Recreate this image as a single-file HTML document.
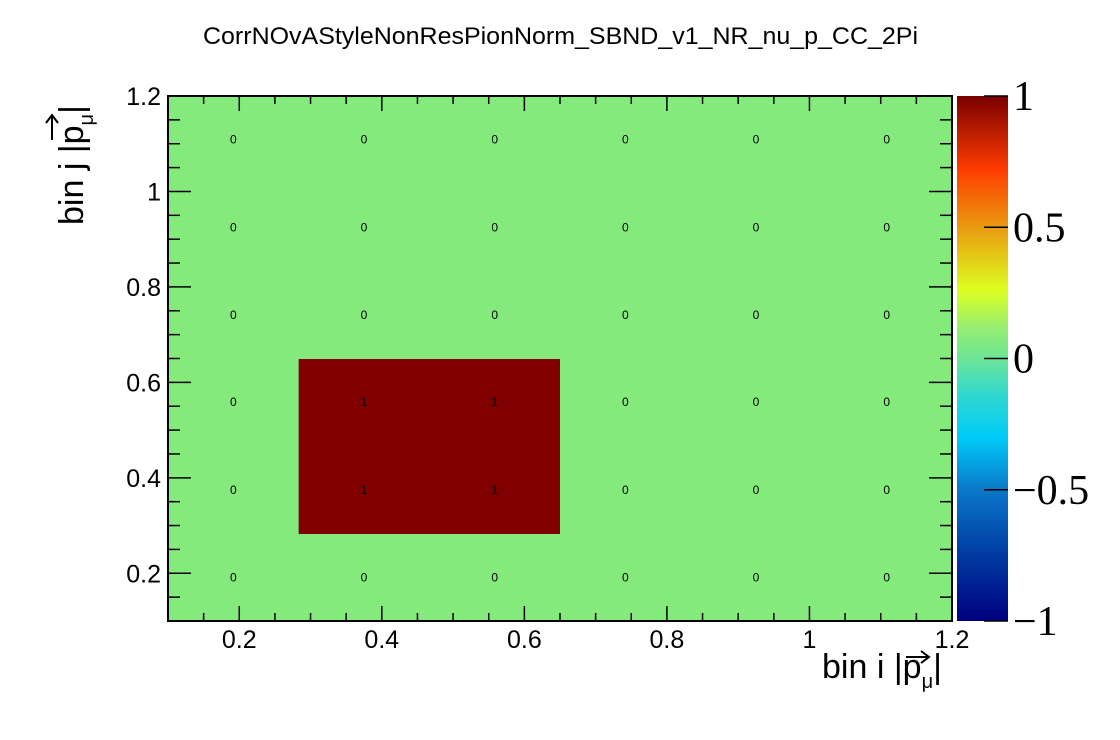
<!DOCTYPE html>
<html><head><meta charset="utf-8"><style>
html,body{margin:0;padding:0;background:#fff;}
svg{display:block;font-family:"Liberation Sans",sans-serif;}
</style></head><body>
<svg id="chart" width="1120" height="740" xmlns="http://www.w3.org/2000/svg">
<defs>
<linearGradient id="pal" x1="0" y1="1" x2="0" y2="0">
<stop offset="0" stop-color="#000080"/>
<stop offset="0.12" stop-color="#0038a0"/>
<stop offset="0.25" stop-color="#0a78c8"/>
<stop offset="0.35" stop-color="#00ccf8"/>
<stop offset="0.43" stop-color="#30d8d0"/>
<stop offset="0.5" stop-color="#6ee596"/>
<stop offset="0.56" stop-color="#98ee70"/>
<stop offset="0.63" stop-color="#dcff20"/>
<stop offset="0.75" stop-color="#ea9a10"/>
<stop offset="0.86" stop-color="#ff3c00"/>
<stop offset="1" stop-color="#7a0000"/>
</linearGradient>
</defs>
<text x="203" y="44" textLength="715" lengthAdjust="spacingAndGlyphs" font-size="24">CorrNOvAStyleNonResPionNorm_SBND_v1_NR_nu_p_CC_2Pi</text>
<g id="cells"></g>
<g id="axes"></g>
<rect x="957" y="96" width="51" height="525" fill="url(#pal)"/>
<g id="cbar"></g>
<g>
<text transform="translate(83,225) rotate(-90)" font-size="34">bin j |p<tspan dy="10" font-size="20">μ</tspan><tspan dy="-10">|</tspan></text>
<path d="M52,140 L52,115 M46,123 L52,115 L58,123" stroke="#000" stroke-width="2" fill="none"/>
</g>
<g>
<text x="822" y="678" font-size="34">bin i |p<tspan dy="10" font-size="20">μ</tspan><tspan dy="-10">|</tspan></text>
<path d="M906,657 L929,657 M921,651 L929,657 L921,663" stroke="#000" stroke-width="2" fill="none"/>
</g>
</svg>
<script>
const binEdges = [0.1, 0.2833, 0.4667, 0.65, 0.8333, 1.0167, 1.2];
// values[j][i], j from bottom row
const values = [
 [0,0,0,0,0,0],
 [0,1,1,0,0,0],
 [0,1,1,0,0,0],
 [0,0,0,0,0,0],
 [0,0,0,0,0,0],
 [0,0,0,0,0,0]
];
const xTicks = [0.2,0.4,0.6,0.8,1,1.2];
const yTicks = [0.2,0.4,0.6,0.8,1,1.2];
const cbTicks = [-1,-0.5,0,0.5,1];
const cbLabels = ["\u22121","\u22120.5","0","0.5","1"];

const L=168,R=952,T=96,B=621,xmin=0.1,xmax=1.2;
const sx=v=>L+(v-xmin)/(xmax-xmin)*(R-L);
const sy=v=>B-(v-xmin)/(xmax-xmin)*(B-T);
const sc=v=>B-(v+1)/2*(B-T);
const NS="http://www.w3.org/2000/svg";
function mk(tag,attrs,parent,text){const e=document.createElementNS(NS,tag);for(const k in attrs)e.setAttribute(k,attrs[k]);if(text!==undefined)e.textContent=text;parent.appendChild(e);return e;}
function col(v){return v>=0.99?"#800000":"#85ea7c";}
const cells=document.getElementById('cells');
for(let j=0;j<values.length;j++)for(let i=0;i<values[j].length;i++){
 const v=values[j][i];
 const r=mk('rect',{x:sx(binEdges[i]),y:sy(binEdges[j+1]),width:sx(binEdges[i+1])-sx(binEdges[i])+0.5,height:sy(binEdges[j])-sy(binEdges[j+1])+0.5,fill:col(v)},cells);
 
 
 const t=mk('text',{x:(sx(binEdges[i])+sx(binEdges[i+1]))/2,y:(sy(binEdges[j])+sy(binEdges[j+1]))/2+4,'text-anchor':'middle','font-size':12},cells,String(v));
 
 
}
const ax=document.getElementById('axes');
const frame=mk('rect',{x:L,y:T,width:R-L,height:B-T,fill:'none',stroke:'#000','stroke-width':2},ax);


for(let k=0;k<=22;k++){const v=0.1+k*0.05; if(v>1.2001)break;
 const major=Math.abs(Math.round(v*10)-v*10)<1e-6&&Math.round(v*10)%2===0;
 const x=sx(v),lx=major?15:8,ly=major?23:12,y=sy(v);
 mk('line',{x1:x,y1:B,x2:x,y2:B-lx,stroke:'#000','stroke-width':1.5},ax);
 mk('line',{x1:x,y1:T,x2:x,y2:T+lx,stroke:'#000','stroke-width':1.5},ax);
 mk('line',{x1:L,y1:y,x2:L+ly,y2:y,stroke:'#000','stroke-width':1.5},ax);
 mk('line',{x1:R,y1:y,x2:R-ly,y2:y,stroke:'#000','stroke-width':1.5},ax);
}
xTicks.forEach(v=>{const t=mk('text',{x:sx(v),y:648,'text-anchor':'middle','font-size':25},ax,String(v));
 });
yTicks.forEach(v=>{const t=mk('text',{x:161,y:sy(v)+9,'text-anchor':'end','font-size':25},ax,String(v));
 });
const cb=document.getElementById('cbar');
cbTicks.forEach((v,k)=>{const y=sc(v);
 mk('line',{x1:1008,y1:y,x2:984,y2:y,stroke:'#000','stroke-width':1.5},cb);
 const t=mk('text',{x:1013,y:y+14,'font-size':42,'font-family':'Liberation Serif, serif'},cb,cbLabels[k]);
 });
</script>
</body></html>
